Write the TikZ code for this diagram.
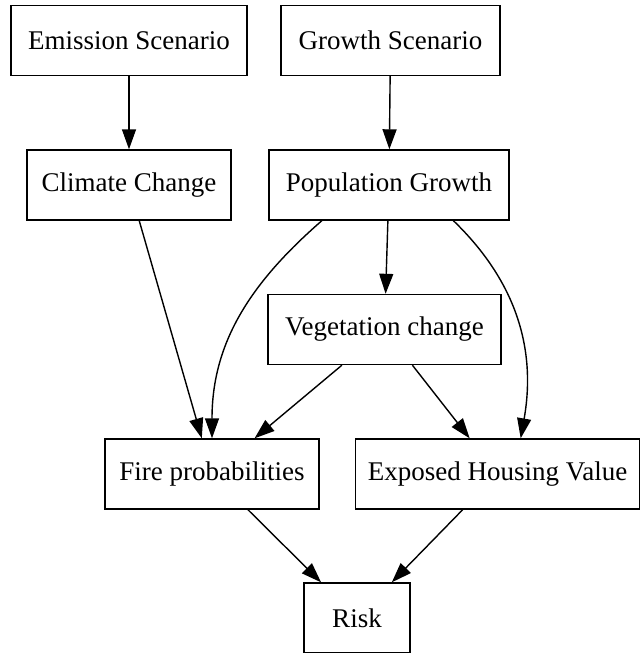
\documentclass[tikz,border=0pt]{standalone}
\usepackage{fontspec}
\setmainfont{Liberation Serif}
\usetikzlibrary{arrows.meta}

\begin{document}
\begin{tikzpicture}[x=1pt, y=1pt, line width=1.4pt,
    >={Triangle[length=20pt, width=14pt]},
    factor/.style={draw, rectangle, inner sep=0pt, minimum height=70pt,
        font=\fontsize{27}{32}\selectfont}]
    \useasboundingbox (0,0) rectangle (642,-653);

    % the boxes, top row first
    \node[factor, minimum width=236pt] (emis) at (129,-40.5) {Emission Scenario};
    \node[factor, minimum width=219pt] (grow) at (390.5,-40.5) {Growth Scenario};
    \node[factor, minimum width=204pt] (clim) at (129,-185) {Climate Change};
    \node[factor, minimum width=240pt] (pop) at (389,-185) {Population Growth};
    \node[factor, minimum width=233pt] (veg) at (384.5,-329.5) {Vegetation change};
    \node[factor, minimum width=214pt] (fire) at (212,-474) {Fire probabilities};
    \node[factor, minimum width=284pt] (expo) at (497.5,-474) {Exposed Housing Value};
    \node[factor, minimum width=106pt] (risk) at (357,-618) {Risk};

    % draw the arrows
    \draw[->] (emis) -- (clim);
    \draw[->] (grow) -- (pop);
    \draw[->] (clim) -- (fire);
    \draw[->] (pop.208) to[out=221, in=90] (fire.north);
    \draw[->] (pop) -- (veg);
    \draw[->] (pop.331) to[out=316, in=80] (expo.57);
    \draw[->] (veg) -- (fire);
    \draw[->] (veg) -- (expo);
    \draw[->] (fire) -- (risk);
    \draw[->] (expo) -- (risk);
\end{tikzpicture}
\end{document}
